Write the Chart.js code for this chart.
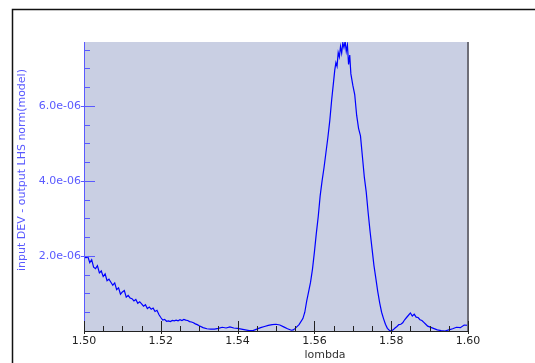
<!DOCTYPE html>
<html>
<head>
<meta charset="utf-8">
<script src="https://cdn.jsdelivr.net/npm/chart.js@4.4.1/dist/chart.umd.min.js"></script>
<style>
  html, body { margin: 0; padding: 0; background: #fff; }
  canvas { display: block; }
</style>
</head>
<body>
<canvas id="spectrum" width="535" height="363"></canvas>
<script>
// wavelength samples and the measured difference at each one
const lambda = [
  1.5000, 1.5005, 1.5010, 1.5015, 1.5020, 1.5025, 1.5030, 1.5035, 1.5040, 1.5045,
  1.5050, 1.5055, 1.5060, 1.5065, 1.5070, 1.5075, 1.5080, 1.5085, 1.5090, 1.5095,
  1.5100, 1.5105, 1.5110, 1.5115, 1.5120, 1.5125, 1.5130, 1.5135, 1.5140, 1.5145,
  1.5150, 1.5155, 1.5160, 1.5165, 1.5170, 1.5175, 1.5180, 1.5185, 1.5190, 1.5195,
  1.5200, 1.5205, 1.5210, 1.5215, 1.5220, 1.5225, 1.5230, 1.5235, 1.5240, 1.5245,
  1.5250, 1.5255, 1.5260, 1.5265, 1.5270, 1.5275, 1.5280, 1.5285, 1.5290, 1.5295,
  1.5300,
  1.531, 1.532, 1.533, 1.534, 1.535, 1.536, 1.537, 1.538, 1.539, 1.540,
  1.541, 1.542, 1.543, 1.544, 1.545, 1.546, 1.547, 1.548, 1.549, 1.550,
  1.551, 1.552, 1.553, 1.554,
  1.5545, 1.555, 1.556, 1.557, 1.5575, 1.558, 1.5585, 1.559, 1.5595, 1.560,
  1.5605, 1.561, 1.5615, 1.562, 1.5625, 1.563, 1.5635, 1.564, 1.5645, 1.565,
  1.5653, 1.5656, 1.5659, 1.5662, 1.5665, 1.5668, 1.5671, 1.5674, 1.5677, 1.568,
  1.5683, 1.5686, 1.5689, 1.5692, 1.5695, 1.570, 1.5705, 1.571, 1.5715, 1.572,
  1.5725, 1.573, 1.5735, 1.574, 1.5745, 1.575, 1.5755, 1.576, 1.5765, 1.577,
  1.5775, 1.578, 1.5785, 1.579, 1.5795, 1.580, 1.5805, 1.581, 1.5815, 1.582,
  1.5825, 1.583, 1.5835, 1.584, 1.5845, 1.585, 1.5855, 1.586, 1.5865, 1.587,
  1.5875, 1.588, 1.5885, 1.589, 1.5895, 1.590, 1.591, 1.592, 1.593, 1.594,
  1.595, 1.596, 1.597, 1.598, 1.599, 1.600,
];

const signal = [
  2.00e-6, 1.95e-6, 1.98e-6, 1.82e-6, 1.90e-6, 1.70e-6, 1.66e-6, 1.74e-6, 1.55e-6, 1.60e-6,
  1.45e-6, 1.52e-6, 1.34e-6, 1.38e-6, 1.30e-6, 1.22e-6, 1.28e-6, 1.10e-6, 1.15e-6, 0.98e-6,
  1.04e-6, 1.08e-6, 0.90e-6, 0.95e-6, 0.88e-6, 0.86e-6, 0.80e-6, 0.84e-6, 0.74e-6, 0.78e-6,
  0.72e-6, 0.66e-6, 0.70e-6, 0.60e-6, 0.64e-6, 0.58e-6, 0.61e-6, 0.52e-6, 0.55e-6, 0.44e-6,
  0.36e-6, 0.29e-6, 0.31e-6, 0.26e-6, 0.27e-6, 0.25e-6, 0.28e-6, 0.27e-6, 0.29e-6, 0.27e-6,
  0.30e-6, 0.28e-6, 0.31e-6, 0.29e-6, 0.28e-6, 0.25e-6, 0.24e-6, 0.22e-6, 0.19e-6, 0.17e-6,
  0.14e-6,
  0.09e-6, 0.06e-6, 0.05e-6, 0.05e-6, 0.07e-6, 0.10e-6, 0.08e-6, 0.11e-6, 0.08e-6, 0.07e-6,
  0.05e-6, 0.03e-6, 0.01e-6, 0.01e-6, 0.05e-6, 0.09e-6, 0.12e-6, 0.15e-6, 0.17e-6, 0.18e-6,
  0.16e-6, 0.11e-6, 0.06e-6, 0.02e-6,
  0.03e-6, 0.07e-6, 0.17e-6, 0.33e-6, 0.50e-6, 0.80e-6, 1.05e-6, 1.30e-6, 1.65e-6, 2.10e-6,
  2.60e-6, 3.05e-6, 3.60e-6, 4.00e-6, 4.35e-6, 4.75e-6, 5.15e-6, 5.60e-6, 6.16e-6, 6.65e-6,
  6.95e-6, 7.15e-6, 7.05e-6, 7.42e-6, 7.30e-6, 7.58e-6, 7.40e-6, 7.68e-6, 7.55e-6, 7.72e-6,
  7.45e-6, 7.62e-6, 7.10e-6, 7.35e-6, 6.85e-6, 6.55e-6, 6.30e-6, 5.75e-6, 5.40e-6, 5.20e-6,
  4.65e-6, 4.10e-6, 3.70e-6, 3.15e-6, 2.65e-6, 2.20e-6, 1.75e-6, 1.40e-6, 1.05e-6, 0.75e-6,
  0.50e-6, 0.33e-6, 0.18e-6, 0.07e-6, 0.02e-6, 0.00e-6, 0.03e-6, 0.08e-6, 0.12e-6, 0.17e-6,
  0.18e-6, 0.22e-6, 0.30e-6, 0.36e-6, 0.42e-6, 0.48e-6, 0.40e-6, 0.45e-6, 0.37e-6, 0.36e-6,
  0.30e-6, 0.28e-6, 0.23e-6, 0.18e-6, 0.13e-6, 0.11e-6, 0.07e-6, 0.03e-6, 0.01e-6, 0.00e-6,
  0.03e-6, 0.06e-6, 0.10e-6, 0.09e-6, 0.16e-6, 0.15e-6,
];

const xRange = [1.5, 1.6];
const yRange = [0, 7.7e-6];
const xLabelStep = 0.02;
const xMinorStep = 0.005;
const yLabelStep = 2e-6;
const yMinorStep = 0.5e-6;

const xTitle = "lombda";
const yTitle = "input DEV - output LHS norm(model)";

const FONT = "DejaVu Sans";
const BLUE = "#0000ff";
const AXIS_BLUE = "#5a5aff";

const isMultiple = (v, step) =>
  Math.abs(v / step - Math.round(v / step)) < 1e-6;

// 2e-6 -> "2.0e-06"
const fmtExp = (v) => {
  const [m, e] = v.toExponential(1).split("e");
  const sign = e[0] === "-" ? "-" : "+";
  return m + "e" + sign + String(Math.abs(Number(e))).padStart(2, "0");
};

const decorations = {
  id: "decorations",
  beforeDraw: (chart) => {
    const { ctx, chartArea: a } = chart;
    ctx.save();
    ctx.fillStyle = "#c9cfe3";
    ctx.fillRect(a.left, a.top, a.right - a.left, a.bottom - a.top);

    // outer frame, runs off the right and bottom edges
    ctx.strokeStyle = "#111";
    ctx.lineWidth = 1.5;
    ctx.strokeRect(12.5, 9.5, 560, 400);
    ctx.restore();
  },
  afterDatasetsDraw: (chart) => {
    const { ctx, chartArea: a, scales } = chart;
    ctx.save();

    // right edge of plot
    ctx.strokeStyle = "#6e6e78";
    ctx.lineWidth = 2;
    ctx.beginPath();
    ctx.moveTo(a.right, a.top);
    ctx.lineTo(a.right, a.bottom);
    ctx.stroke();

    // y axis + ticks
    ctx.strokeStyle = AXIS_BLUE;
    ctx.lineWidth = 1;
    ctx.beginPath();
    ctx.moveTo(a.left + 0.5, a.top);
    ctx.lineTo(a.left + 0.5, a.bottom);
    scales.y.ticks.forEach((t) => {
      if (t.value <= 0 || !isMultiple(t.value, yMinorStep)) return;
      const y = Math.round(scales.y.getPixelForValue(t.value)) + 0.5;
      const major = isMultiple(t.value, yLabelStep);
      ctx.moveTo(a.left - (major ? 3 : 0), y);
      ctx.lineTo(a.left + (major ? 11 : 6), y);
    });
    ctx.stroke();

    // x axis + ticks
    ctx.strokeStyle = "#222";
    ctx.beginPath();
    ctx.moveTo(a.left, a.bottom + 0.5);
    ctx.lineTo(a.right, a.bottom + 0.5);
    scales.x.ticks.forEach((t) => {
      if (!isMultiple(t.value, xMinorStep)) return;
      const x = Math.round(scales.x.getPixelForValue(t.value)) + 0.5;
      const major = isMultiple(t.value, xLabelStep);
      ctx.moveTo(x, a.bottom + (major ? 3 : 0));
      ctx.lineTo(x, a.bottom - (major ? 10 : 5));
    });
    ctx.stroke();

    // axis titles
    ctx.font = "11px '" + FONT + "'";
    ctx.textAlign = "center";
    ctx.textBaseline = "middle";
    ctx.fillStyle = "#333";
    ctx.fillText(xTitle, 325, 355);

    ctx.fillStyle = AXIS_BLUE;
    ctx.translate(22, 170);
    ctx.rotate(-Math.PI / 2);
    ctx.fillText(yTitle, 0, 0);
    ctx.restore();
  },
};

const points = lambda.map((l, i) => ({ x: l, y: signal[i] }));

new Chart(document.getElementById("spectrum"), {
  type: "line",
  data: {
    datasets: [
      {
        data: points,
        borderColor: BLUE,
        borderWidth: 1.2,
        pointRadius: 0,
        tension: 0,
        fill: false,
      },
    ],
  },
  options: {
    responsive: false,
    animation: false,
    events: [],
    layout: { padding: { left: 0, top: 42, right: 67, bottom: 0 } },
    plugins: {
      legend: { display: false },
      tooltip: { enabled: false },
    },
    scales: {
      x: {
        type: "linear",
        min: xRange[0],
        max: xRange[1],
        afterFit: (s) => {
          s.height = 32;
        },
        grid: { display: false, drawTicks: false },
        border: { display: false },
        ticks: {
          stepSize: xMinorStep,
          includeBounds: false,
          autoSkip: false,
          maxRotation: 0,
          padding: 4,
          color: "#222",
          font: { family: FONT, size: 11 },
          callback: (v) => (isMultiple(v, xLabelStep) ? v.toFixed(2) : ""),
        },
      },
      y: {
        type: "linear",
        min: yRange[0],
        max: yRange[1],
        afterFit: (s) => {
          s.width = 84;
        },
        grid: { display: false, drawTicks: false },
        border: { display: false },
        ticks: {
          stepSize: yMinorStep,
          includeBounds: false,
          autoSkip: false,
          padding: 3,
          color: AXIS_BLUE,
          font: { family: FONT, size: 11 },
          callback: (v) =>
            v > 0 && isMultiple(v, yLabelStep) ? fmtExp(v) : "",
        },
      },
    },
  },
  plugins: [decorations],
});
</script>
</body>
</html>
